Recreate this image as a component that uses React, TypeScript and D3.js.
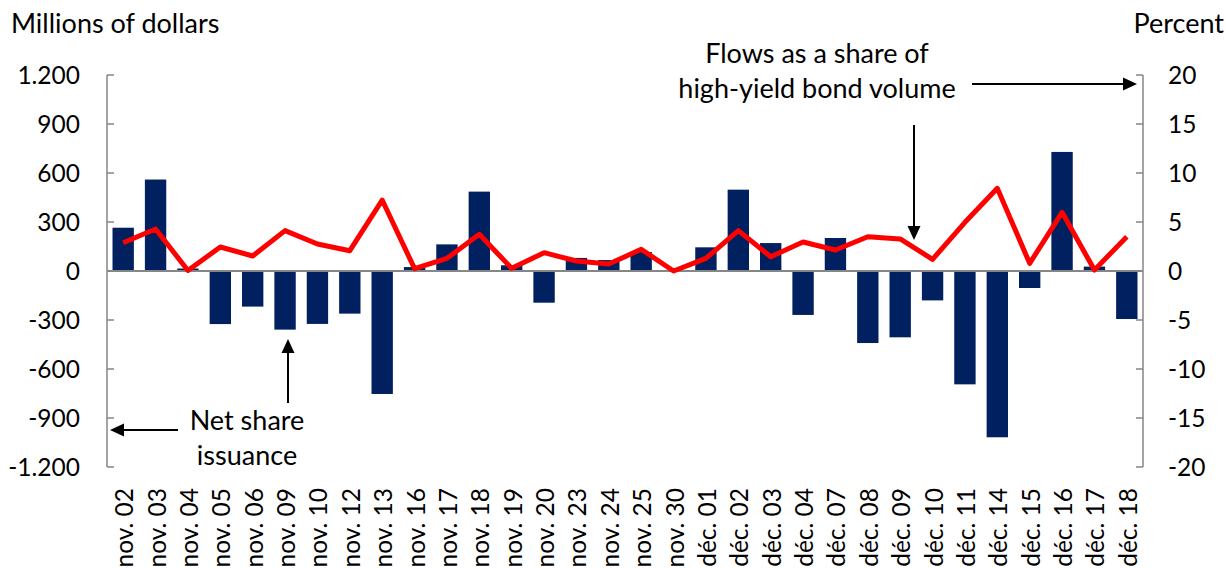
import React from "react";
import * as d3 from "d3";

const categories = [
  "nov. 02", "nov. 03", "nov. 04", "nov. 05", "nov. 06", "nov. 09", "nov. 10", "nov. 12",
  "nov. 13", "nov. 16", "nov. 17", "nov. 18", "nov. 19", "nov. 20", "nov. 23", "nov. 24",
  "nov. 25", "nov. 30", "déc. 01", "déc. 02", "déc. 03", "déc. 04", "déc. 07", "déc. 08",
  "déc. 09", "déc. 10", "déc. 11", "déc. 14", "déc. 15", "déc. 16", "déc. 17", "déc. 18",
];

const netShareIssuance = [
  265, 560, 15, -325, -218, -359, -324, -261, -753, 24, 163, 486, 35, -194, 80, 67,
  116, 0, 145, 498, 171, -269, 202, -441, -406, -180, -694, -1018, -104, 729, 27, -294,
];

const flowsShare = [
  2.89, 4.29, 0.05, 2.45, 1.53, 4.12, 2.76, 2.07, 7.24, 0.24, 1.29, 3.74, 0.27, 1.87, 1.02, 0.71,
  2.21, 0.0, 1.29, 4.12, 1.46, 2.96, 2.14, 3.5, 3.27, 1.19, 4.97, 8.44, 0.78, 5.99, 0.1, 3.5,
];

const leftTicks = [1200, 900, 600, 300, 0, -300, -600, -900, -1200];
const leftTickLabels = ["1.200", "900", "600", "300", "0", "-300", "-600", "-900", "-1.200"];
const rightTicks = [20, 15, 10, 5, 0, -5, -10, -15, -20];
const rightTickLabels = ["20", "15", "10", "5", "0", "-5", "-10", "-15", "-20"];

const W = 1226;
const H = 568;
const X0 = 107;
const X1 = 1143;
const YT = 75;
const YB = 467;
const FONT = "Lato, 'Open Sans', sans-serif";
const AXIS = "#868686";
const TITLE_SIZE = 27;

export default function App() {
  const x = d3.scaleBand<string>().domain(categories).range([X0, X1]).paddingInner(0.34).paddingOuter(0.17);
  const yL = d3.scaleLinear().domain([-1200, 1200]).range([YB, YT]);
  const yR = d3.scaleLinear().domain([-20, 20]).range([YB, YT]);
  const cx = (c: string) => (x(c) as number) + x.bandwidth() / 2;

  const line = d3
    .line<number>()
    .x((_, i) => cx(categories[i]))
    .y((d) => yR(d));

  const arrowHead = (tx: number, ty: number, dir: "up" | "down" | "left" | "right") => {
    const L = 14;
    const h = 6.5;
    let pts: [number, number][] = [];
    if (dir === "up") pts = [[tx, ty], [tx - h, ty + L], [tx + h, ty + L]];
    if (dir === "down") pts = [[tx, ty], [tx - h, ty - L], [tx + h, ty - L]];
    if (dir === "left") pts = [[tx, ty], [tx + L, ty - h], [tx + L, ty + h]];
    if (dir === "right") pts = [[tx, ty], [tx - L, ty - h], [tx - L, ty + h]];
    return <polygon points={pts.map((p) => p.join(",")).join(" ")} fill="#000" />;
  };

  return (
    <svg
      width={W}
      height={H}
      style={{ position: "absolute", left: 0, top: 0, background: "#fff" }}
      fontFamily={FONT}
    >
      <rect x={0} y={0} width={W} height={H} fill="#fff" />
      {/* titles */}
      <text x={11} y={33} fontSize={TITLE_SIZE} fill="#000">Millions of dollars</text>
      <text x={1224} y={33} fontSize={TITLE_SIZE} fill="#000" textAnchor="end">Percent</text>

      {/* bars */}
      {netShareIssuance.map((v, i) => (
        <rect
          key={"b" + i}
          x={x(categories[i])}
          width={x.bandwidth()}
          y={Math.min(yL(v), yL(0))}
          height={Math.abs(yL(v) - yL(0))}
          fill="#002060"
        />
      ))}

      {/* axes */}
      <line x1={X0} x2={X0} y1={YT} y2={YB} stroke={AXIS} strokeWidth={1.5} />
      {leftTicks.map((t, i) => (
        <g key={"lt" + i}>
          <line x1={X0} x2={X0 + 7} y1={yL(t)} y2={yL(t)} stroke={AXIS} strokeWidth={1.5} />
          <text x={80} y={yL(t)} dy="0.35em" textAnchor="end" fontSize={24.5} fill="#000">
            {leftTickLabels[i]}
          </text>
        </g>
      ))}
      <line x1={X1} x2={X1} y1={YT} y2={YB} stroke={AXIS} strokeWidth={1.5} />
      {rightTicks.map((t, i) => (
        <g key={"rt" + i}>
          <line x1={X1 - 7} x2={X1} y1={yR(t)} y2={yR(t)} stroke={AXIS} strokeWidth={1.5} />
          <text x={1168} y={yR(t)} dy="0.35em" textAnchor="start" fontSize={24.5} fill="#000">
            {rightTickLabels[i]}
          </text>
        </g>
      ))}
      <line x1={X0} x2={X1} y1={yL(0)} y2={yL(0)} stroke={AXIS} strokeWidth={1.8} />

      {/* category labels */}
      {categories.map((c, i) => (
        <text
          key={"c" + i}
          transform={`translate(${cx(c)},488) rotate(-90)`}
          y={10}
          textAnchor="end"
          fontSize={24.5}
          fill="#000"
        >
          {c}
        </text>
      ))}

      {/* line */}
      <path d={line(flowsShare) as string} fill="none" stroke="#FF0000" strokeWidth={5} strokeLinejoin="round" />

      {/* annotations */}
      <text x={817} y={63} fontSize={TITLE_SIZE} textAnchor="middle" fill="#000">Flows as a share of</text>
      <text x={817} y={98} fontSize={TITLE_SIZE} textAnchor="middle" fill="#000">high-yield bond volume</text>
      <line x1={972} x2={1125} y1={84} y2={84} stroke="#000" strokeWidth={2} />
      {arrowHead(1137, 84, "right")}
      <line x1={914} x2={914} y1={125} y2={228} stroke="#000" strokeWidth={2} />
      {arrowHead(914, 240, "down")}

      <text x={247} y={430} fontSize={TITLE_SIZE} textAnchor="middle" fill="#000">Net share</text>
      <text x={247} y={465} fontSize={TITLE_SIZE} textAnchor="middle" fill="#000">issuance</text>
      <line x1={122} x2={178} y1={430} y2={430} stroke="#000" strokeWidth={2} />
      {arrowHead(110, 430, "left")}
      <line x1={288} x2={288} y1={351} y2={403} stroke="#000" strokeWidth={2} />
      {arrowHead(288, 339, "up")}
    </svg>
  );
}
